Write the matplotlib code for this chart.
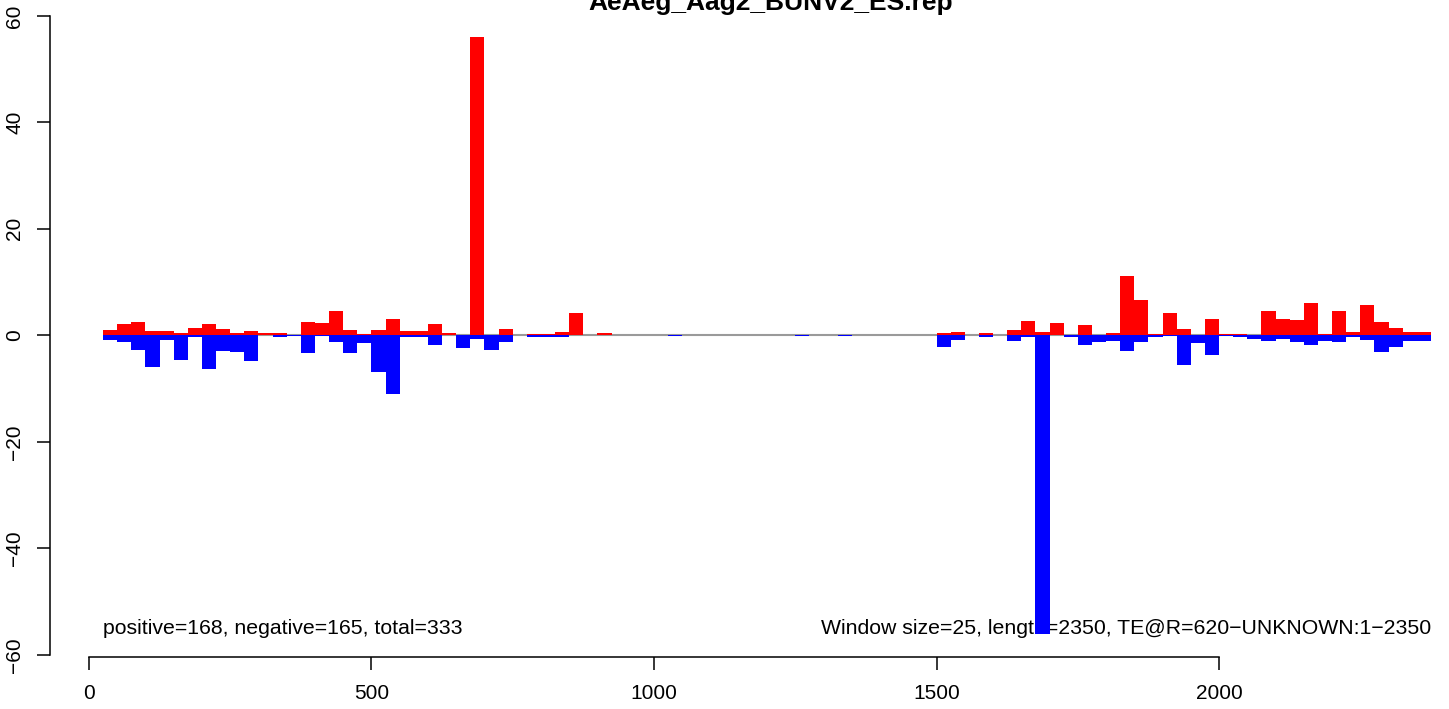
import matplotlib.pyplot as plt
import numpy as np

plt.rcParams['font.family'] = ['Liberation Sans', 'DejaVu Sans']

window = 25
n_windows = 94  # length 2350 / window 25

# reads per window, positive strand (red) and negative strand (blue)
positive = [1.0, 2.2, 2.5, 0.9, 0.9, 0.5, 1.4, 2.2, 1.25, 0.5,
            0.9, 0.5, 0.5, 0.1, 2.55, 2.4, 4.6, 1.05, 0.3, 1.05,
            3.1, 0.9, 0.9, 2.2, 0.5, 0.1, 56.0, 0.0, 1.25, 0.0,
            0.3, 0.3, 0.7, 4.25, 0.0, 0.5, 0.0, 0.0, 0.0, 0.0,
            0.0, 0.0, 0.05, 0.05, 0.0, 0.0, 0.0, 0.0, 0.0, 0.0,
            0.0, 0.0, 0.0, 0.0, 0.0, 0.0, 0.0, 0.0, 0.0, 0.5,
            0.7, 0.1, 0.5, 0.0, 1.05, 2.75, 0.7, 2.4, 0.0, 2.0,
            0.0, 0.5, 11.2, 6.7, 0.3, 4.25, 1.25, 0.0, 3.1, 0.3,
            0.3, 0.0, 4.6, 3.1, 2.9, 6.1, 0.3, 4.6, 0.7, 5.75,
            2.55, 1.4, 0.7, 0.7]
negative = [-0.8, -1.2, -2.7, -5.9, -0.8, -4.6, -0.25, -6.4, -2.9, -3.1,
            -4.75, 0.0, -0.4, -0.2, -3.25, -0.2, -1.2, -3.25, -1.4, -6.8,
            -11.1, -0.4, -0.25, -1.9, 0.0, -2.3, -0.6, -2.7, -1.2, 0.0,
            -0.4, -0.4, -0.25, 0.0, 0.0, 0.0, 0.0, 0.0, 0.0, 0.0,
            -0.05, 0.0, 0.0, 0.0, 0.0, 0.0, 0.0, 0.0, 0.0, -0.05,
            0.0, 0.0, -0.05, 0.0, 0.0, 0.0, 0.0, 0.0, 0.0, -2.1,
            -0.8, 0.0, -0.25, 0.0, -1.0, -0.4, -56.0, 0.0, -0.4, -1.75,
            -1.2, -1.0, -2.9, -1.2, -0.4, -0.1, -5.5, -1.4, -3.6, -0.1,
            -0.4, -0.6, -1.0, -0.6, -1.2, -1.9, -1.0, -1.2, -0.4, -0.8,
            -3.1, -2.1, -1.0, -1.0]

title = "AeAeg_Aag2_BUNV2_ES.rep"
left_note = "positive=168, negative=165, total=333"
right_note = "Window size=25, length=2350, TE@R=620\u2212UNKNOWN:1\u22122350"

starts = window * (np.arange(n_windows) + 1)

W, H, DPI = 1449, 709, 100
fig = plt.figure(figsize=(W / DPI, H / DPI), dpi=DPI)
# plot region like R: x from 25 to 2375 padded 4%, right edge falls off the image
ax = fig.add_axes([50 / W, 1 - 657 / H, 1434 / W, 643.3 / H])

ax.hlines(0, starts[0], starts[-1] + window, color='#9a9a9a', lw=1.5, zorder=1)
ax.bar(starts, positive, width=window, align='edge', color='#FF0000', lw=0, zorder=3)
ax.bar(starts, negative, width=window, align='edge', color='#0000FF', lw=0, zorder=3)

ax.text(starts[0], -55, left_note, ha='left', va='center', fontsize=15.3, zorder=2)
ax.text(starts[-1] + window, -55, right_note, ha='right', va='center', fontsize=15.3, zorder=2)

ax.set_xlim(-69, 2469)
ax.set_ylim(-60.4, 60.4)
ax.set_xticks([0, 500, 1000, 1500, 2000])
ax.set_yticks([-60, -40, -20, 0, 20, 40, 60])
ax.spines['top'].set_visible(False)
ax.spines['right'].set_visible(False)
ax.spines['bottom'].set_bounds(0, 2000)
ax.spines['left'].set_bounds(-60, 60)
for s in ['bottom', 'left']:
    ax.spines[s].set_linewidth(1.1)
ax.tick_params(length=9.5, width=1.1, labelsize=15, pad=9)
ax.tick_params(axis='x', pad=10)
ax.tick_params(axis='y', labelrotation=90)
for lab in ax.get_yticklabels():
    lab.set_va('center')

fig.text(771 / W, 1 - 3 / H, title, ha='center', va='center', fontsize=19, fontweight='bold')

fig.savefig('out.png', dpi=DPI)
